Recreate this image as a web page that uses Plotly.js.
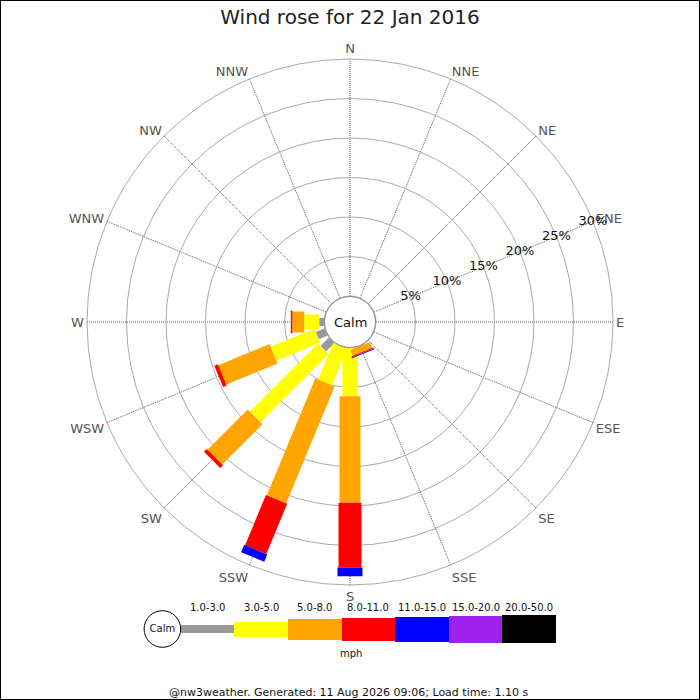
<!DOCTYPE html>
<html><head><meta charset="utf-8">
<script src="https://cdn.plot.ly/plotly-3.0.1.min.js"></script>
<style>html,body{margin:0;padding:0;background:#fff}#chart{width:700px;height:700px}</style>
</head><body><div id="chart"></div>
<script>
// ---------- data ----------
const directions = ['N','NNE','NE','ENE','E','ESE','SE','SSE','S','SSW','SW','WSW','W','WNW','NW','NNW'];
const speedBins = ['1.0-3.0','3.0-5.0','5.0-8.0','8.0-11.0','11.0-15.0','15.0-20.0','20.0-50.0'];
//                 N  NNE NE ENE E ESE SE  SSE   S     SSW   SW    WSW   W    WNW NW NNW
const pct_1_3   = [0, 0, 0, 0, 0, 0, 0, 0,    0,    0,    1.5,  1.2,  0.6,  0, 0, 0];
const pct_3_5   = [0, 0, 0, 0, 0, 0, 0, 0,    6.1,  5.0,  12.2, 6.0,  1.9,  0, 0, 0];
const pct_5_8   = [0, 0, 0, 0, 0, 0, 0, 0.8,  13.5, 16.0, 7.2,  7.0,  1.5,  0, 0, 0];
const pct_8_11  = [0, 0, 0, 0, 0, 0, 0, 0.15, 8.2,  6.9,  0.5,  0.5,  0.2,  0, 0, 0];
const pct_11_15 = [0, 0, 0, 0, 0, 0, 0, 0.12, 1.1,  1.0,  0,    0,    0,    0, 0, 0];
const pct_15_20 = [0, 0, 0, 0, 0, 0, 0, 0,    0,    0,    0,    0,    0,    0, 0, 0];
const pct_20_50 = [0, 0, 0, 0, 0, 0, 0, 0,    0,    0,    0,    0,    0,    0, 0, 0];
const radialTicks = [5, 10, 15, 20, 25, 30];
const radialLabelDir = 'ENE';
const radialMax = 30;
const titleText = 'Wind rose for 22 Jan 2016';
const calmText = 'Calm';
const unitText = 'mph';
const footerText = '@nw3weather. Generated: 11 Aug 2026 09:06; Load time: 1.10 s';

// ---------- style ----------
const binColors = ['#999999','#ffff00','#ffa500','#ff0000','#0000ff','#a020f0','#000000'];
const binThickness = [8, 15, 21, 23, 25, 27, 28]; // px
const FONT = 'DejaVu Sans, Verdana, sans-serif';
const W = 700, H = 700;
const cx = 350, cy = 322, R = 263, holePx = 26;
const calmR = 25.5;

// ---------- build rose ----------
const series = [pct_1_3, pct_3_5, pct_5_8, pct_8_11, pct_11_15, pct_15_20, pct_20_50];
const dirAngles = directions.map((d, i) => i * 360 / directions.length);
const cum = directions.map(() => 0);
const traces = [];
series.forEach((vals, k) => {
  const r = [], th = [];
  vals.forEach((v, i) => {
    if (v > 0) {
      r.push(cum[i], cum[i] + v, null);
      th.push(dirAngles[i], dirAngles[i], null);
    }
    cum[i] += v;
  });
  traces.push({
    type: 'scatterpolar', mode: 'lines', r: r, theta: th, thetaunit: 'degrees',
    connectgaps: false, line: {color: binColors[k], width: binThickness[k]},
    hoverinfo: 'skip', showlegend: false, subplot: 'polar'
  });
});
// radial tick labels drawn along the ENE spoke, centred on each ring
const labelAngle = dirAngles[directions.indexOf(radialLabelDir)];
traces.push({
  type: 'scatterpolar', mode: 'text', r: radialTicks, theta: radialTicks.map(() => labelAngle),
  thetaunit: 'degrees', text: radialTicks.map(v => v + '%'), textposition: 'middle center',
  textfont: {family: FONT, size: 13, color: '#111'}, cliponaxis: false,
  hoverinfo: 'skip', showlegend: false, subplot: 'polar'
});

// ---------- legend (cartesian strip) ----------
const legX0 = 180.7, legX1 = 556, legYc = 629, legHalf = 20;
const segPx = (legX1 - legX0) / speedBins.length;
const legCalmR = 18.3;
const extraPx = 2 * legCalmR + 4;
const binIdx = speedBins.map((b, i) => i);
traces.push({
  type: 'bar', x: binIdx, y: binThickness, base: binThickness.map(t => -t / 2), width: 1,
  marker: {color: binColors, line: {width: 0}}, hoverinfo: 'skip', showlegend: false,
  xaxis: 'x', yaxis: 'y'
});
traces.push({
  type: 'scatter', mode: 'markers+text', x: [-0.5 - legCalmR / segPx], y: [0],
  marker: {symbol: 'circle', size: legCalmR * 2, color: '#fff', line: {color: '#000', width: 1}},
  text: [calmText], textposition: 'middle center',
  textfont: {family: FONT, size: 10, color: '#111'},
  hoverinfo: 'skip', showlegend: false, xaxis: 'x', yaxis: 'y'
});

const annotations = speedBins.map((b, i) => ({
  text: b, x: i, xref: 'x', y: (H - 607) / H, yref: 'paper', showarrow: false,
  xanchor: 'center', yanchor: 'middle', font: {family: FONT, size: 10, color: '#111'}
}));
annotations.push({
  text: unitText, x: 351 / W, xref: 'paper', y: (H - 653) / H, yref: 'paper', showarrow: false,
  xanchor: 'center', yanchor: 'middle', font: {family: FONT, size: 10, color: '#111'}
});
annotations.push({
  text: footerText, x: 348 / W, xref: 'paper', y: (H - 692) / H, yref: 'paper', showarrow: false,
  xanchor: 'center', yanchor: 'middle', font: {family: FONT, size: 11, color: '#111'}
});
annotations.push({
  text: calmText, x: cx / W, xref: 'paper', y: (H - cy) / H, yref: 'paper', showarrow: false,
  xanchor: 'center', yanchor: 'middle', font: {family: FONT, size: 13, color: '#111'}
});

const layout = {
  width: W, height: H,
  margin: {l: 0, r: 0, t: 0, b: 0, pad: 0},
  paper_bgcolor: '#fff', plot_bgcolor: 'rgba(0,0,0,0)',
  showlegend: false,
  title: {text: titleText, x: 0.5, xanchor: 'center', xref: 'paper',
          y: 1 - 17 / H, yref: 'container', yanchor: 'middle',
          font: {family: FONT, size: 20, color: '#222'}},
  font: {family: FONT},
  polar: {
    domain: {x: [(cx - R) / W, (cx + R) / W], y: [(H - cy - R) / H, (H - cy + R) / H]},
    hole: holePx / R,
    bgcolor: '#fff',
    radialaxis: {
      range: [0, radialMax], tickmode: 'array', tickvals: radialTicks,
      showticklabels: false, angle: 22.5, showline: false, ticks: '',
      gridcolor: '#aaaaaa', gridwidth: 1, layer: 'below traces'
    },
    angularaxis: {
      direction: 'clockwise', rotation: 90, thetaunit: 'degrees',
      tickmode: 'array', tickvals: dirAngles, ticktext: directions,
      showline: true, linecolor: '#aaaaaa', linewidth: 1, ticks: '',
      gridcolor: '#555', gridwidth: 1, griddash: '1px,1px', layer: 'below traces',
      tickfont: {family: FONT, size: 13, color: '#555'}
    }
  },
  xaxis: {domain: [(legX0 - extraPx) / W, legX1 / W], range: [-0.5 - extraPx / segPx, speedBins.length - 0.5],
          visible: false, fixedrange: true, anchor: 'y'},
  yaxis: {domain: [(H - legYc - legHalf) / H, (H - legYc + legHalf) / H], range: [-legHalf, legHalf],
          visible: false, fixedrange: true, anchor: 'x'},
  bargap: 0,
  annotations: annotations,
  shapes: [
    {type: 'circle', xref: 'paper', yref: 'paper', layer: 'above',
     x0: (cx - calmR) / W, x1: (cx + calmR) / W, y0: (H - cy - calmR) / H, y1: (H - cy + calmR) / H,
     fillcolor: '#fff', line: {color: '#888', width: 1}},
    {type: 'rect', xref: 'paper', yref: 'paper', x0: 0, x1: 1, y0: 0, y1: 1,
     line: {color: '#000', width: 2}, layer: 'above'}
  ]
};

Plotly.newPlot('chart', traces, layout, {staticPlot: true, displayModeBar: false});
</script>
</body></html>
